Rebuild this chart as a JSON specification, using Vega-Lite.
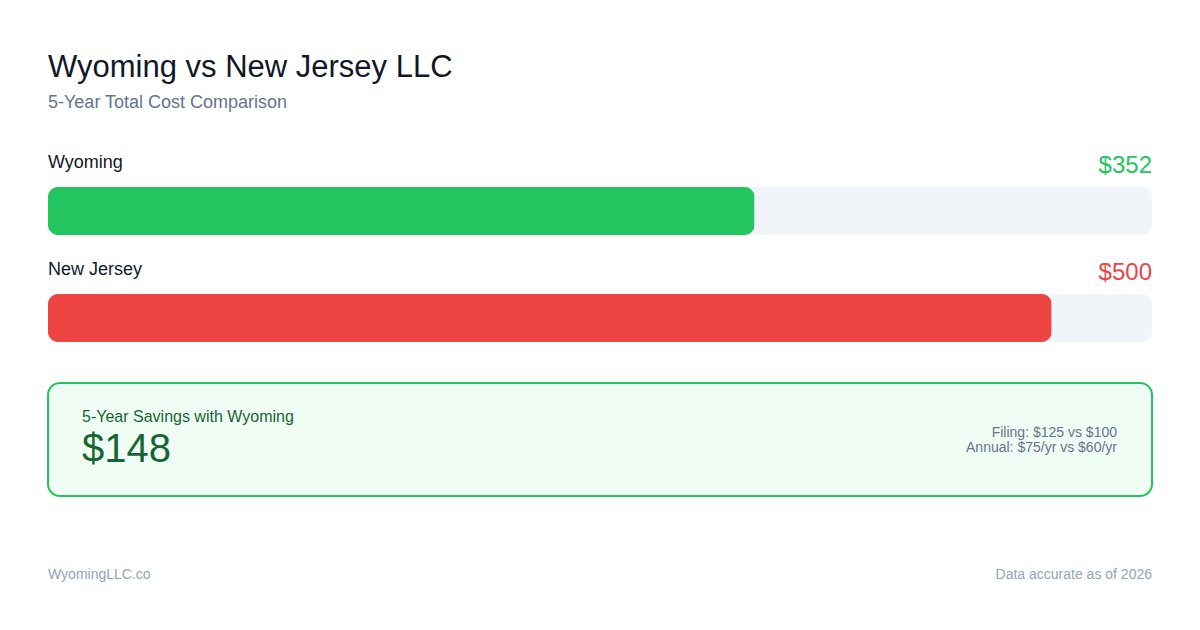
{
  "$schema": "https://vega.github.io/schema/vega-lite/v6.json",
  "width": 1104,
  "height": 321,
  "autosize": {"type": "none"},
  "padding": {"left": 48, "right": 48, "top": 157.5, "bottom": 151.5},
  "background": "#ffffff",
  "title": {
    "text": "Wyoming vs New Jersey LLC",
    "subtitle": "5-Year Total Cost Comparison",
    "anchor": "start",
    "frame": "group",
    "offset": 41,
    "subtitlePadding": 10,
    "font": "Liberation Sans",
    "fontSize": 31,
    "fontWeight": "normal",
    "color": "#111827",
    "subtitleFont": "Liberation Sans",
    "subtitleFontSize": 18,
    "subtitleColor": "#64748b"
  },
  "datasets": {
    "costs": [
      {"state": "Wyoming", "cost": 352},
      {"state": "New Jersey", "cost": 500}
    ],
    "savings": [
      {"label": "5-Year Savings with Wyoming", "amount": 148, "filing": "Filing: $125 vs $100", "annual": "Annual: $75/yr vs $60/yr"}
    ],
    "footer": [
      {"source": "WyomingLLC.co", "note": "Data accurate as of 2026"}
    ]
  },
  "config": {"view": {"stroke": null}, "font": "Liberation Sans"},
  "layer": [
    {
      "data": {"name": "costs"},
      "mark": {"type": "bar", "height": 48, "cornerRadius": 10, "color": "#f1f5f9"},
      "encoding": {
        "y": {
          "field": "state",
          "type": "nominal",
          "scale": {"domain": ["Wyoming", "New Jersey", "Savings"], "paddingInner": 0, "paddingOuter": 0},
          "axis": null
        },
        "x": {
          "datum": 550,
          "type": "quantitative",
          "scale": {"domain": [0, 550], "nice": false, "zero": true},
          "axis": null
        }
      }
    },
    {
      "data": {"name": "costs"},
      "mark": {"type": "bar", "height": 48, "cornerRadius": 10},
      "encoding": {
        "y": {"field": "state", "type": "nominal"},
        "x": {"field": "cost", "type": "quantitative"},
        "color": {
          "field": "state",
          "type": "nominal",
          "scale": {"domain": ["Wyoming", "New Jersey"], "range": ["#22c55e", "#ef4444"]},
          "legend": null
        }
      }
    },
    {
      "data": {"name": "costs"},
      "mark": {"type": "text", "align": "left", "baseline": "alphabetic", "dy": -43, "fontSize": 18, "color": "#111827"},
      "encoding": {
        "y": {"field": "state", "type": "nominal"},
        "x": {"datum": 0, "type": "quantitative"},
        "text": {"field": "state"}
      }
    },
    {
      "data": {"name": "costs"},
      "mark": {"type": "text", "align": "right", "baseline": "alphabetic", "dy": -38, "fontSize": 24},
      "encoding": {
        "y": {"field": "state", "type": "nominal"},
        "x": {"datum": 550, "type": "quantitative"},
        "text": {"field": "cost", "format": "$,d"},
        "color": {"field": "state", "type": "nominal", "legend": null}
      }
    },
    {
      "data": {"name": "savings"},
      "mark": {"type": "bar", "height": 113, "yOffset": 14.5, "cornerRadius": 12, "fill": "#f0fdf4", "stroke": "#22c55e", "strokeWidth": 2},
      "encoding": {
        "y": {"datum": "Savings", "type": "nominal"},
        "x": {"datum": 550, "type": "quantitative"}
      }
    },
    {
      "data": {"name": "savings"},
      "mark": {"type": "text", "align": "left", "baseline": "alphabetic", "dx": 34, "dy": -2.7, "fontSize": 16, "color": "#166534"},
      "encoding": {
        "y": {"datum": "Savings", "type": "nominal"},
        "x": {"datum": 0, "type": "quantitative"},
        "text": {"field": "label"}
      }
    },
    {
      "data": {"name": "savings"},
      "mark": {"type": "text", "align": "left", "baseline": "alphabetic", "dx": 34, "dy": 37.3, "fontSize": 40, "color": "#166534"},
      "encoding": {
        "y": {"datum": "Savings", "type": "nominal"},
        "x": {"datum": 0, "type": "quantitative"},
        "text": {"field": "amount", "format": "$,d"}
      }
    },
    {
      "data": {"name": "savings"},
      "mark": {"type": "text", "align": "right", "baseline": "alphabetic", "dx": -35, "dy": 11.7, "fontSize": 14, "color": "#64748b"},
      "encoding": {
        "y": {"datum": "Savings", "type": "nominal"},
        "x": {"datum": 550, "type": "quantitative"},
        "text": {"field": "filing"}
      }
    },
    {
      "data": {"name": "savings"},
      "mark": {"type": "text", "align": "right", "baseline": "alphabetic", "dx": -35, "dy": 26.7, "fontSize": 14, "color": "#64748b"},
      "encoding": {
        "y": {"datum": "Savings", "type": "nominal"},
        "x": {"datum": 550, "type": "quantitative"},
        "text": {"field": "annual"}
      }
    },
    {
      "data": {"name": "footer"},
      "mark": {"type": "text", "align": "left", "baseline": "alphabetic", "dy": 154.3, "fontSize": 14, "color": "#94a3b8"},
      "encoding": {
        "y": {"datum": "Savings", "type": "nominal"},
        "x": {"datum": 0, "type": "quantitative"},
        "text": {"field": "source"}
      }
    },
    {
      "data": {"name": "footer"},
      "mark": {"type": "text", "align": "right", "baseline": "alphabetic", "dy": 154.3, "fontSize": 14, "color": "#94a3b8"},
      "encoding": {
        "y": {"datum": "Savings", "type": "nominal"},
        "x": {"datum": 550, "type": "quantitative"},
        "text": {"field": "note"}
      }
    }
  ]
}
